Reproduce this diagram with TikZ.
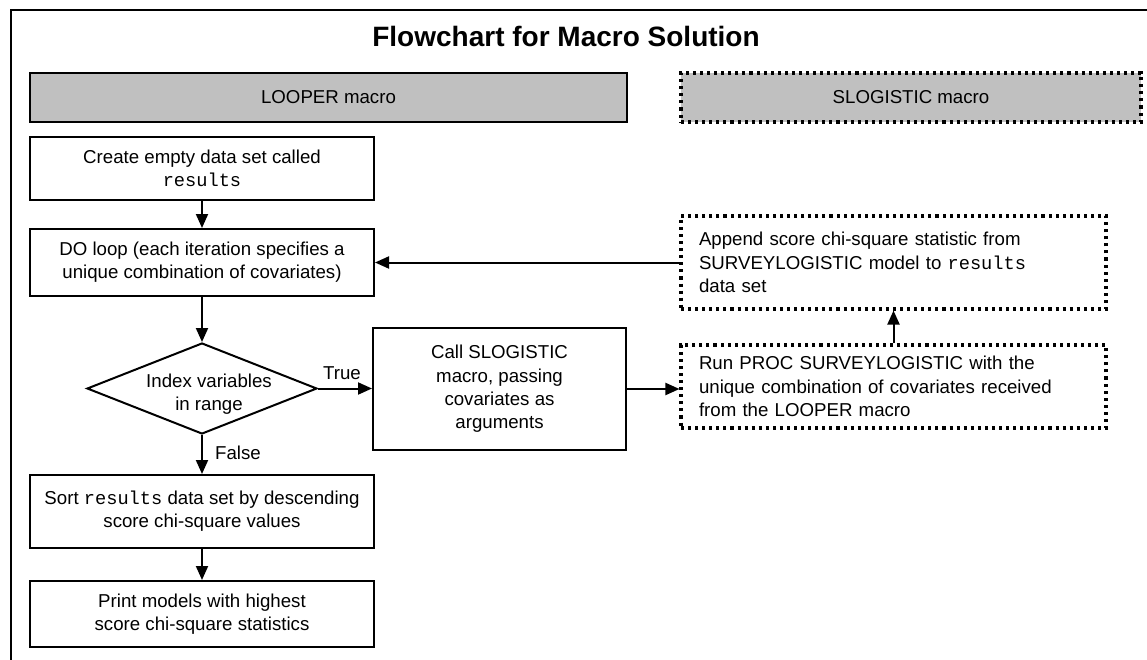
\documentclass[tikz,border=0pt]{standalone}
\usepackage{fontspec}
\setmainfont{Liberation Sans}
\setmonofont{Liberation Mono}
\usetikzlibrary{shapes.geometric,arrows.meta}
\definecolor{hdrgray}{RGB}{192,192,192}
\tikzset{
    txt/.style={
        font=\fontsize{14}{17.5}\selectfont
    }
}

\begin{document}
\begin{tikzpicture}[x=0.75pt,y=-0.75pt, line join=miter]

\tikzset{
  main/.style={draw=black, line width=1.5pt},
  dots/.style={draw=black, line width=2.3pt, dash pattern=on 2.3pt off 3pt},
  proc/.style={main, rectangle, txt, align=center, inner sep=0pt, minimum width=258pt},
  hdr/.style={rectangle, txt, fill=hdrgray, inner sep=0pt, minimum height=36.75pt},
  sub/.style={dots, rectangle, txt, align=left, inner xsep=13.5pt, inner ysep=0pt,
    text width=291.75pt, minimum width=318.75pt},
  test/.style={main, diamond, aspect=2.53, inner sep=0pt,
    minimum width=172.5pt, minimum height=68.25pt},
  flow/.style={main, -{Triangle[width=9pt,length=10.5pt]}},
  blab/.style={txt},
}

\clip (0,0) rectangle (1147,660);
\fill[white] (0,0) rectangle (1147,660);

% outer frame, runs off the page at right and bottom
\draw[main] (11,10) rectangle (1180,700);

\node[font=\fontsize{21}{25}\selectfont\bfseries] (title) at (566,36) {Flowchart for Macro Solution};

% column headers
\node[hdr, main, minimum width=447.75pt] (looper) at (328.5,97.5) {LOOPER macro};
\node[hdr, dots, minimum width=345pt] (slog) at (911,97.5) {SLOGISTIC macro};

% main loop
\node[proc, minimum height=47.25pt] (create) at (202,168.5) {Create empty data set called\\\texttt{results}};
\node[proc, minimum height=50.25pt] (doloop) at (202,262.5) {DO loop (each iteration specifies a\\unique combination of covariates)};
\node[test] (inrange) at (202,388.5) {};
\node[txt, align=center] (rangetxt) at (209,394) {Index variables\\in range};
\node[proc, minimum width=189.75pt, minimum height=91.5pt] (call) at (499.5,389) {Call SLOGISTIC\\macro, passing\\covariates as\\arguments};
\node[proc, minimum height=54.75pt] (sort) at (202,511.5) {Sort \texttt{results} data set by descending\\score chi-square values};
\node[proc, minimum height=49.5pt] (print) at (202,614) {Print models with highest\\score chi-square statistics};

% SLOGISTIC side
\node[sub, minimum height=69.75pt] (append) at (893.5,262.5) {Append score chi-square statistic from\\SURVEYLOGISTIC model to \texttt{results}\\data set};
\node[sub, minimum height=62.25pt] (run) at (893.5,386.5) {Run PROC SURVEYLOGISTIC with the\\unique combination of covariates received\\from the LOOPER macro};

% connectors
\draw[flow] (create) -- (doloop);
\draw[flow] (doloop) -- (inrange);
\draw[flow] (inrange.east) -- (call.west |- inrange.east);
\draw[flow] (inrange) -- (sort);
\draw[flow] (sort) -- (print);
\draw[flow] (call.east) -- (call.east -| run.west);
\draw[flow] (run) -- (append);
\draw[flow] (append) -- (doloop);

% branch labels
\node[blab] (truelab) at (342,373) {True};
\node[blab] (falselab) at (238,453) {False};

\end{tikzpicture}
\end{document}
